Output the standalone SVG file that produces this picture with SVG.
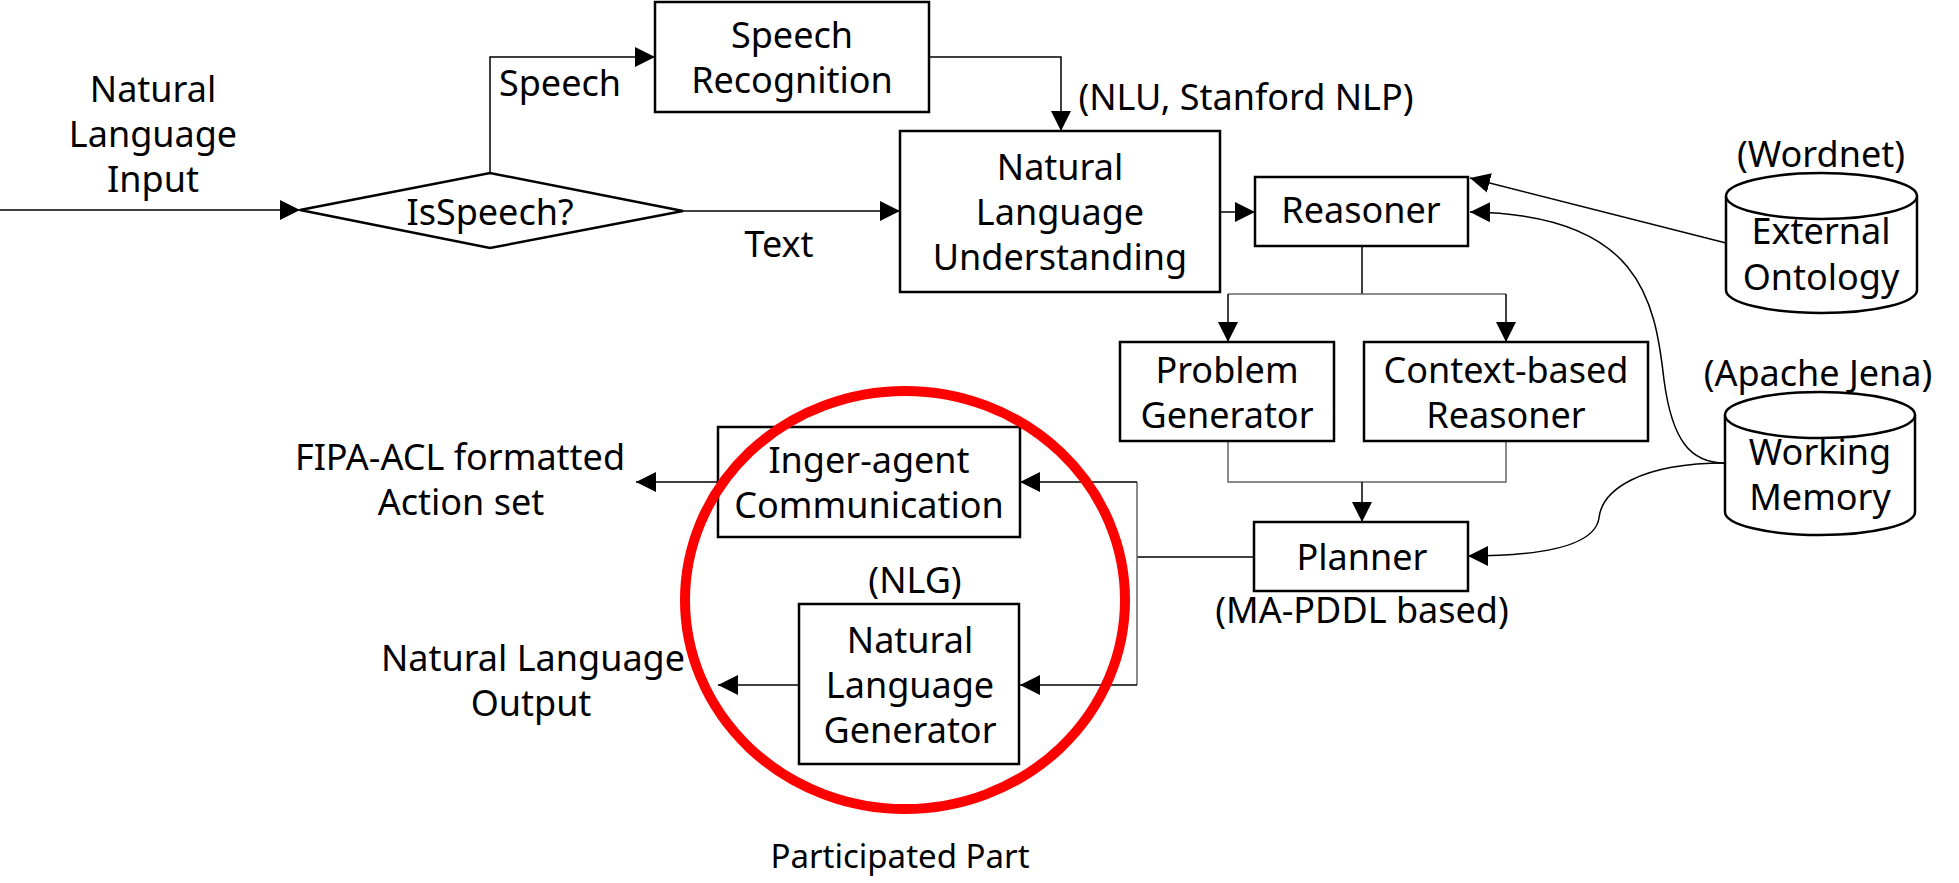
<svg xmlns="http://www.w3.org/2000/svg" width="1959" height="883" viewBox="0 0 1959 883">
<style>
  text { font-family: "Noto Sans", "Open Sans", "Liberation Sans", sans-serif; font-size: 36px; fill: #000; text-anchor: middle; }
  .small { font-size: 33px; }
  .box { fill: #fff; stroke: #000; stroke-width: 2.5; }
  .line { fill: none; stroke: #000; stroke-width: 1.5; }
  .gline { fill: none; stroke: #666; stroke-width: 1.5; }
</style>
<defs>
  <marker id="arr" viewBox="0 0 20 20" refX="20" refY="10" markerWidth="20" markerHeight="20" markerUnits="userSpaceOnUse" orient="auto">
    <path d="M0,0 L20,10 L0,20 Z" fill="#000"/>
  </marker>
</defs>
<rect width="1959" height="883" fill="#fff"/>

<g id="connectors">
  <path class="line" d="M0,210 L300,210" marker-end="url(#arr)"/>
  <path class="line" d="M490,173 L490,57 L655,57" marker-end="url(#arr)"/>
  <path class="line" d="M683,211 L900,211" marker-end="url(#arr)"/>
  <path class="line" d="M929,57 L1061,57 L1061,131" marker-end="url(#arr)"/>
  <path class="line" d="M1220,212 L1255,212" marker-end="url(#arr)"/>
  <path class="line" d="M1362,246 L1362,294"/>
  <path class="gline" d="M1228,294 L1506,294"/>
  <path class="line" d="M1228,294 L1228,342" marker-end="url(#arr)"/>
  <path class="line" d="M1506,294 L1506,342" marker-end="url(#arr)"/>
  <path class="gline" d="M1228,441 L1228,482 L1506,482 L1506,441"/>
  <path class="line" d="M1362,482 L1362,522" marker-end="url(#arr)"/>
  <path class="line" d="M1726,243 L1470,178" marker-end="url(#arr)"/>
  <path class="line" d="M1725,463 C1690,463 1672,440 1664,380 C1655,300 1640,214 1470,212" marker-end="url(#arr)"/>
  <path class="line" d="M1725,463 C1640,463 1602,490 1599,518 C1595,545 1545,556 1468,556" marker-end="url(#arr)"/>
  <path class="line" d="M1254,557 L1137,557"/>
  <path class="gline" d="M1137,482 L1137,685"/>
  <path class="line" d="M1137,482 L1020,482" marker-end="url(#arr)"/>
  <path class="line" d="M1137,685 L1020,685" marker-end="url(#arr)"/>
  <path class="line" d="M718,482 L636,482" marker-end="url(#arr)"/>
  <path class="line" d="M799,685 L718,685" marker-end="url(#arr)"/>
</g>

<g id="input-label">
  <text x="153" y="102">Natural</text>
  <text x="153" y="147">Language</text>
  <text x="153" y="192">Input</text>
</g>
<g id="isspeech">
  <polygon class="box" stroke-width="2" points="300,210 490,173 683,211 490,248"/>
  <text x="490" y="225">IsSpeech?</text>
</g>
<g id="edge-labels">
  <text x="560" y="96">Speech</text>
  <text x="779" y="257">Text</text>
  <text x="1246" y="110">(NLU, Stanford NLP)</text>
</g>
<g id="speech-recognition">
  <rect class="box" x="655" y="2" width="274" height="110"/>
  <text x="792" y="48">Speech</text>
  <text x="792" y="93">Recognition</text>
</g>
<g id="nlu">
  <rect class="box" x="900" y="131" width="320" height="161"/>
  <text x="1060" y="180">Natural</text>
  <text x="1060" y="225">Language</text>
  <text x="1060" y="270">Understanding</text>
</g>
<g id="reasoner">
  <rect class="box" x="1255" y="177" width="213" height="69"/>
  <text x="1361" y="223">Reasoner</text>
</g>
<g id="external-ontology">
  <text x="1821" y="167">(Wordnet)</text>
  <path class="box" d="M1726,196 A95.5,23 0 0,1 1917,196 L1917,290 A95.5,23 0 0,1 1726,290 Z"/>
  <path class="box" fill="none" d="M1726,196 A95.5,23 0 0,0 1917,196"/>
  <text x="1821" y="244">External</text>
  <text x="1821" y="290">Ontology</text>
</g>
<g id="problem-generator">
  <rect class="box" x="1120" y="342" width="214" height="99"/>
  <text x="1227" y="383">Problem</text>
  <text x="1227" y="428">Generator</text>
</g>
<g id="context-reasoner">
  <rect class="box" x="1364" y="342" width="284" height="99"/>
  <text x="1506" y="383">Context-based</text>
  <text x="1506" y="428">Reasoner</text>
</g>
<g id="working-memory">
  <text x="1818" y="386">(Apache Jena)</text>
  <path class="box" d="M1725,415 A95,23 0 0,1 1915,415 L1915,512 A95,23 0 0,1 1725,512 Z"/>
  <path class="box" fill="none" d="M1725,415 A95,23 0 0,0 1915,415"/>
  <text x="1820" y="465">Working</text>
  <text x="1820" y="510">Memory</text>
</g>
<g id="planner">
  <rect class="box" x="1254" y="522" width="214" height="69"/>
  <text x="1362" y="570">Planner</text>
  <text x="1362" y="623">(MA-PDDL based)</text>
</g>
<g id="inter-agent">
  <rect class="box" x="718" y="427" width="302" height="110"/>
  <text x="869" y="473">Inger-agent</text>
  <text x="869" y="518">Communication</text>
</g>
<g id="nlg">
  <text x="915" y="593">(NLG)</text>
  <rect class="box" x="799" y="604" width="220" height="160"/>
  <text x="910" y="653">Natural</text>
  <text x="910" y="698">Language</text>
  <text x="910" y="743">Generator</text>
</g>
<g id="outputs">
  <text x="460" y="470">FIPA-ACL formatted</text>
  <text x="461" y="515">Action set</text>
  <text x="533" y="671">Natural Language</text>
  <text x="531" y="716">Output</text>
</g>
<g id="participated-part">
  <ellipse cx="905" cy="600" rx="220" ry="209" fill="none" stroke="#ff0000" stroke-width="10"/>
  <text class="small" x="900" y="868">Participated Part</text>
</g>
</svg>
